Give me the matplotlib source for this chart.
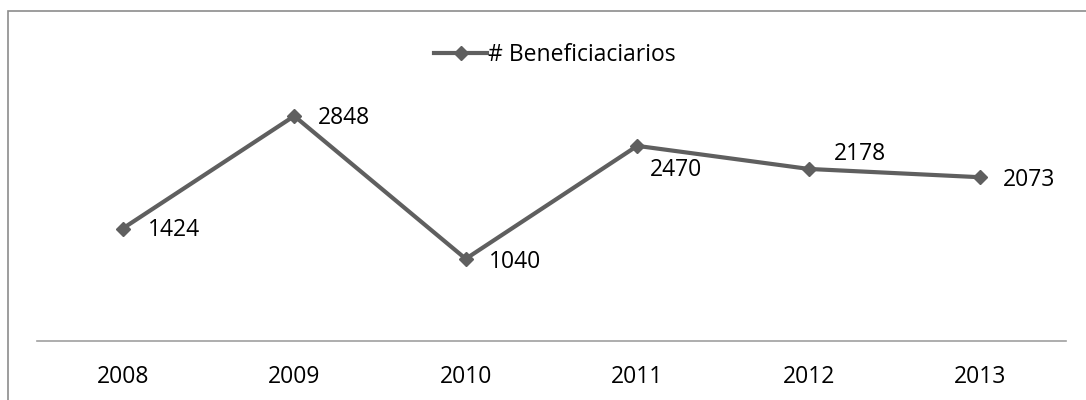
import matplotlib
matplotlib.use("Agg")
import matplotlib.pyplot as plt
from matplotlib.patches import Rectangle

# data
years = ["2008", "2009", "2010", "2011", "2012", "2013"]
beneficiarios = [1424, 2848, 1040, 2470, 2178, 2073]
serie = "# Beneficiaciarios"

# label offsets (pixels, right / down) from each point
lbl_dx = [25, 24, 23, 13, 25, 23]
lbl_dy = [1, 2, 3, 24, -15, 3]

plt.rcParams['font.family'] = ['Open Sans', 'DejaVu Sans']
FS = 16.5

W, H = 1086, 400
fig = plt.figure(figsize=(W / 100, H / 100), dpi=100)

# outer chart frame (right and bottom are outside the picture)
fig.patches.append(Rectangle((8 / W, -0.1), 1.2, 1 - 11 / H + 0.1,
                             transform=fig.transFigure, fill=False,
                             edgecolor="#8c8c8c", linewidth=1.2))

ax = fig.add_axes([37 / W, (H - 341) / H, (1066 - 37) / W, (341 - 104) / H])
x = list(range(len(years)))
line, = ax.plot(x, beneficiarios, color="#5f5f5f", linewidth=3,
                marker="D", markersize=7.5, label=serie)

ax.set_xlim(-0.5, len(years) - 0.5)
ax.set_ylim(0, 3000)
ax.set_xticks(x)
ax.set_xticklabels(years, fontsize=FS)
ax.tick_params(axis="x", length=0, pad=17)
ax.set_yticks([])
for s in ["top", "right", "left"]:
    ax.spines[s].set_visible(False)
ax.spines["bottom"].set_color("#a0a0a0")
ax.spines["bottom"].set_linewidth(1.2)
ax.patch.set_alpha(0)

for i, v in enumerate(beneficiarios):
    ax.annotate(str(v), (i, v), xytext=(lbl_dx[i] * 0.72, -lbl_dy[i] * 0.72),
                textcoords="offset points", ha="left", va="center",
                fontsize=FS, color="black")

fig.legend(handles=[line], loc="center", bbox_to_anchor=(555 / W, 1 - 55 / H),
           frameon=False, fontsize=FS, handlelength=2.3, handletextpad=0.05,
           markerscale=1.0)

fig.savefig("out.png", dpi=100)
